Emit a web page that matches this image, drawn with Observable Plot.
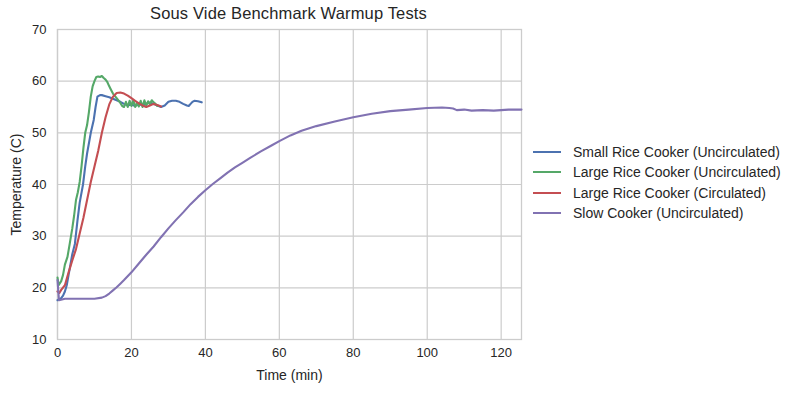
<!DOCTYPE html>
<html>
<head>
<meta charset="utf-8">
<script src="https://cdn.jsdelivr.net/npm/d3@7"></script>
<script src="https://cdn.jsdelivr.net/npm/@observablehq/plot@0.6"></script>
<style>
  html, body { margin: 0; padding: 0; background: #fff; }
  #wrap { position: relative; width: 794px; height: 393px; font-family: "Liberation Sans", Arial, sans-serif; color: #262626; }
  #title { position: absolute; left: 40px; width: 497px; top: 4px; text-align: center; font-size: 16.5px; letter-spacing: 0.15px; white-space: nowrap; }
  #legend { position: absolute; left: 533px; top: 142px; font-size: 14px; }
  .row { display: flex; align-items: center; height: 20.3px; white-space: nowrap; }
  .sw { width: 28px; height: 0; border-top: 2.2px solid; margin-right: 12px; }
</style>
</head>
<body>
<div id="wrap">
  <div id="title">Sous Vide Benchmark Warmup Tests</div>
  <div id="legend"></div>
</div>
<script>
const seriesNames = [
  "Small Rice Cooker (Uncirculated)",
  "Large Rice Cooker (Uncirculated)",
  "Large Rice Cooker (Circulated)",
  "Slow Cooker (Uncirculated)"
];
const seriesColors = ["#4C72B0", "#55A868", "#C44E52", "#8172B2"];

const smallTime = [0,1,1.5,2,2.5,3,3.5,4,4.7,5.4,6,6.9,7.5,8,9,9.8,10.3,10.8,11.5,12,13,14,15,16,17,18,19,20,21,22,23,24,25,26,27,28,29,30,31,32,33,34,35,35.5,36,36.5,37,38,39];
const smallTemp = [17.6,18.0,18.5,19.3,20.5,22.5,24.5,26.5,28.5,33.0,36.5,40.0,43.5,46.0,50.0,52.5,55.0,57.0,57.3,57.3,57.1,56.9,56.6,56.3,56.0,55.6,55.3,55.5,55.2,55.6,55.3,55.6,55.9,55.6,55.3,55.0,55.3,56.0,56.2,56.2,56.0,55.6,55.3,55.2,55.6,56.0,56.2,56.1,55.9];

const largeTime = [0,0.3,1,1.5,2,2.7,3.3,4,4.5,5,5.5,6,6.5,7,7.5,8,8.5,9,9.5,10,10.5,11,11.5,12,12.5,13,13.5,14,14.5,15,16,17,17.5,18,18.5,19,19.5,20,20.5,21,21.5,22,22.5,23,23.5,24,24.5,25,25.5,26,26.5,27];
const largeTemp = [22.0,20.5,21.3,22.5,24.5,26.0,28.5,31.5,34.0,37.0,38.5,40.5,43.5,47.0,50.0,51.5,54.0,57.0,59.0,60.0,60.8,60.9,60.8,61.0,60.6,60.3,59.8,59.0,58.3,57.6,56.7,55.8,55.2,55.0,56.0,55.0,56.2,55.2,56.3,55.0,55.8,55.1,56.2,55.0,56.3,55.3,56.1,55.5,56.3,55.9,55.6,55.2];

const circTime = [0,0.5,1,2,3,4,5,6,7,8,9,10,11,12,13,14,15,16,17,18,19,20,21,22,23,24,25,26,27,28];
const circTemp = [19.3,19.0,19.6,20.5,23.0,25.3,27.5,30.5,33.5,37.0,40.5,43.5,46.5,50.0,53.0,55.5,57.0,57.7,57.8,57.6,57.2,56.7,56.2,55.7,55.3,55.0,55.3,55.6,55.4,55.1];

const slowTime = [0,0.4,2,5,10,12,13,14,15,16,17,18,20,22,24,26,28,30,32,34,36,38,40,42,44,46,48,50,52,55,58,60,63,66,70,75,80,85,90,95,100,104,106,107,108,110,112,115,118,120,122,125.5];
const slowTemp = [21.5,17.6,17.9,17.9,17.9,18.1,18.4,18.9,19.5,20.1,20.8,21.5,23.0,24.7,26.4,28.0,29.8,31.5,33.1,34.6,36.2,37.6,38.9,40.1,41.2,42.3,43.3,44.2,45.1,46.4,47.6,48.4,49.5,50.4,51.3,52.2,53.0,53.7,54.2,54.5,54.8,54.9,54.8,54.7,54.4,54.5,54.3,54.4,54.3,54.4,54.5,54.5];

const xTicks = [0, 20, 40, 60, 80, 100, 120];
const yTicks = [10, 20, 30, 40, 50, 60, 70];

const allSeries = [
  [smallTime, smallTemp],
  [largeTime, largeTemp],
  [circTime, circTemp],
  [slowTime, slowTemp]
];
const data = [];
allSeries.forEach(([ts, vs], i) => {
  ts.forEach((t, j) => data.push({series: seriesNames[i], time: t, temp: vs[j]}));
});

const chart = Plot.plot({
  width: 794,
  height: 393,
  marginLeft: 57,
  marginRight: 273,
  marginTop: 29,
  marginBottom: 54,
  style: {fontFamily: '"Liberation Sans", Arial, sans-serif', fontSize: "13px", color: "#262626", background: "transparent"},
  x: {domain: [0, 125.5], ticks: xTicks, tickSize: 0, tickPadding: 8, label: "Time (min)", labelAnchor: "center", labelArrow: "none", labelOffset: 40},
  y: {domain: [10, 70], ticks: yTicks, tickSize: 0, tickPadding: 11, label: "Temperature (C)", labelAnchor: "center", labelArrow: "none", labelOffset: 46},
  color: {domain: seriesNames, range: seriesColors},
  marks: [
    Plot.gridX(xTicks, {stroke: "#cccccc", strokeOpacity: 1, strokeWidth: 1.2}),
    Plot.gridY(yTicks, {stroke: "#cccccc", strokeOpacity: 1, strokeWidth: 1.2}),
    Plot.frame({stroke: "#cccccc", strokeWidth: 1.3}),
    Plot.line(data, {x: "time", y: "temp", z: "series", stroke: "series", strokeWidth: 2.1, curve: "linear"})
  ]
});
chart.style.position = "absolute";
chart.style.left = "0px";
chart.style.top = "0px";
chart.querySelectorAll("text").forEach(t => t.setAttribute("fill", "#262626"));
chart.querySelectorAll("g[aria-label='x-axis label'] text, g[aria-label='y-axis label'] text").forEach(t => t.setAttribute("font-size", "14px"));
const wrap = document.getElementById("wrap");
wrap.insertBefore(chart, wrap.firstChild);

const legend = document.getElementById("legend");
seriesNames.forEach((name, i) => {
  const row = document.createElement("div");
  row.className = "row";
  const sw = document.createElement("span");
  sw.className = "sw";
  sw.style.borderTopColor = seriesColors[i];
  const lab = document.createElement("span");
  lab.textContent = name;
  row.appendChild(sw);
  row.appendChild(lab);
  legend.appendChild(row);
});
</script>
</body>
</html>
